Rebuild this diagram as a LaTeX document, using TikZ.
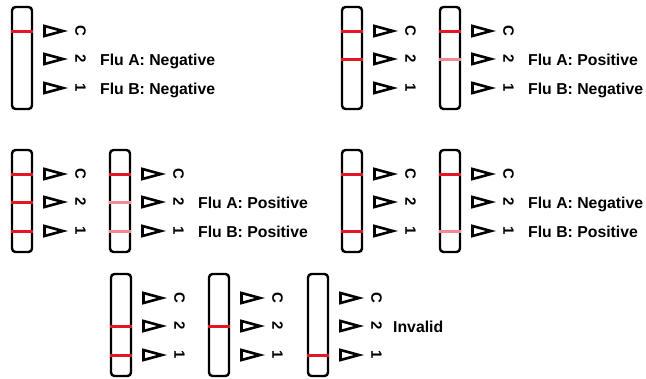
\documentclass[tikz,border=0pt]{standalone}
\usepackage{fontspec}
\setmainfont{Liberation Sans}
\definecolor{lred}{RGB}{228,22,36}
\definecolor{lpink}{RGB}{238,138,148}
\tikzset{
  stripbox/.style={draw=black, line width=2.4pt, rounded corners=3.5pt},
  testline/.style={line width=3pt},
  marker/.style={draw=black, line width=2.6pt, line join=miter},
  lbl/.style={rotate=-90, font=\bfseries\fontsize{15}{15}\selectfont, inner sep=0pt},
  result/.style={anchor=base west, font=\bfseries\fontsize{15.8}{16}\selectfont, inner sep=0pt},
}
% #1 x, #2 top, #3 C colour, #4 line-2 colour, #5 line-1 colour
\newcommand{\tstrip}[5]{%
  \draw[stripbox] (#1,#2) rectangle ++(20,102);
  \draw[testline,draw=#3] (#1-1.2,#2+24) -- ++(22.4,0);
  \draw[testline,draw=#4] (#1-1.2,#2+52) -- ++(22.4,0);
  \draw[testline,draw=#5] (#1-1.2,#2+81) -- ++(22.4,0);
  \foreach \o/\t in {24/C,52/2,81/1}{
    \draw[marker] (#1+32.5,#2+\o-5) -- (#1+32.5,#2+\o+5) -- (#1+51,#2+\o) -- cycle;
    \node[lbl] at (#1+68.5,#2+\o) {\t};
  }%
}
\newcommand{\tresult}[4]{%
  \node[result] at (#1,#2+58.5) {#3};
  \node[result] at (#1,#2+87.5) {#4};
}
\begin{document}
\begin{tikzpicture}[x=1pt,y=-1pt]
  \useasboundingbox (0,0) rectangle (646,378);
  % group 1
  \tstrip{12}{7}{lred}{none}{none}
  \tresult{100}{7}{Flu A: Negative}{Flu B: Negative}
  % group 2
  \tstrip{342}{7}{lred}{lred}{none}
  \tstrip{440}{7}{lred}{lpink}{none}
  \tresult{528}{7}{Flu A: Positive}{Flu B: Negative}
  % group 3
  \tstrip{12}{150}{lred}{lred}{lred}
  \tstrip{110}{150}{lred}{lpink}{lpink}
  \tresult{198}{150}{Flu A: Positive}{Flu B: Positive}
  % group 4
  \tstrip{342}{150}{lred}{none}{lred}
  \tstrip{440}{150}{lred}{none}{lpink}
  \tresult{528}{150}{Flu A: Negative}{Flu B: Positive}
  % group 5
  \tstrip{111}{274}{none}{lred}{lred}
  \tstrip{209}{274}{none}{lred}{none}
  \tstrip{308}{274}{none}{none}{lred}
  \node[result] (invalid) at (393,274+58.5) {Invalid};
\end{tikzpicture}
\end{document}
